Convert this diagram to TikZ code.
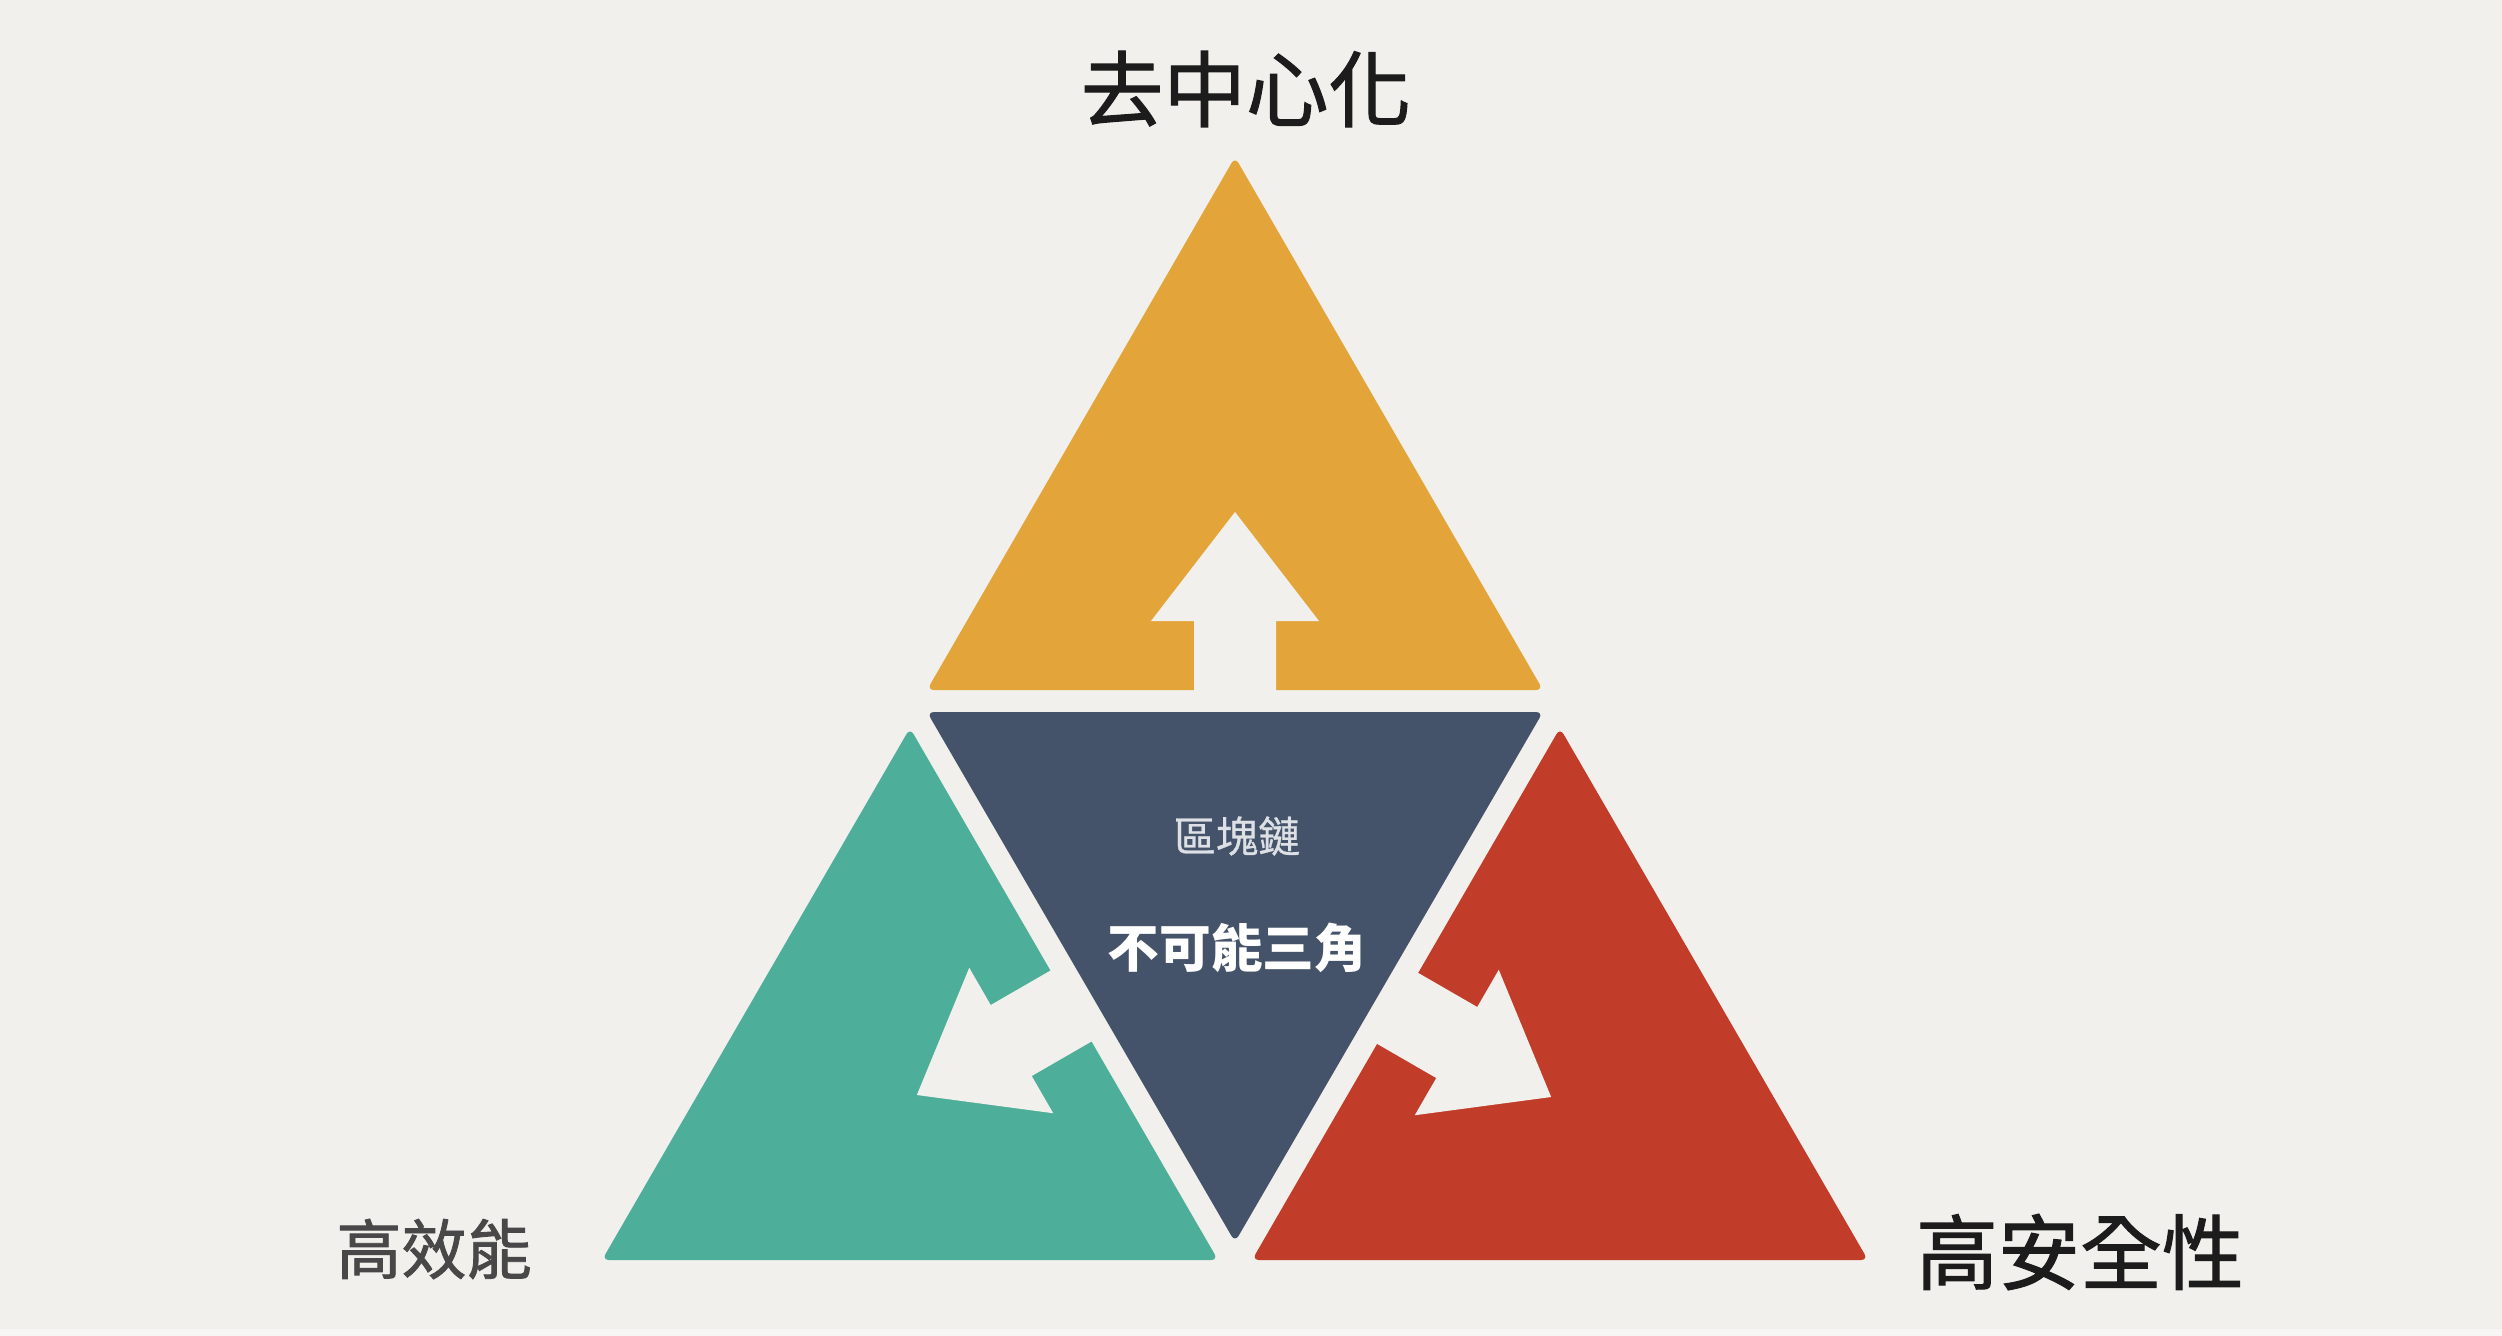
\documentclass[tikz,border=0pt]{standalone}
\usepackage{fontspec}
\newfontfamily\cjk{Noto Sans CJK TC}
\newfontfamily\cjkm[FakeBold=1.3]{Noto Sans CJK TC}
\newfontfamily\cjks[FakeBold=0.6]{Noto Sans CJK TC}
\definecolor{bgc}{HTML}{F1F0EC}
\definecolor{orangec}{HTML}{E3A43A}
\definecolor{navyc}{HTML}{45536A}
\definecolor{tealc}{HTML}{4DAE9A}
\definecolor{redc}{HTML}{C23C2A}
\definecolor{darktext}{HTML}{1C1C1C}
\definecolor{graytext}{HTML}{484848}
\definecolor{lighttext}{HTML}{DDE1E6}
\tikzset{
  tri/.style={rounded corners=2pt},
  cutout/.style={fill=bgc},
  label/.style={inner sep=0pt, anchor=center},
}
\def\arrowpath{(-41,5) -- (-41,-69) -- (-84,-69) -- (0,-178) -- (84,-69) -- (41,-69) -- (41,5) -- cycle}
\begin{document}
\begin{tikzpicture}[x=0.01cm,y=-0.01cm]
% background
\fill[bgc] (0,0) rectangle (2502,1336);
\useasboundingbox (0,0) rectangle (2502,1336);
\fill[bgc!60!white] (0,1329) rectangle (2502,1336);

% triangles
\fill[tri, orangec] (1235,157) -- (1543,690) -- (927,690) -- cycle;
\fill[tri, navyc] (927,712) -- (1543,712) -- (1235,1242) -- cycle;
\fill[tri, tealc] (910,728) -- (1218,1260) -- (602,1260) -- cycle;
\fill[tri, redc] (1560,728) -- (1868,1260) -- (1252,1260) -- cycle;

% arrow cut-outs
\begin{scope}[shift={(1235,690)}]
  \fill[cutout] \arrowpath;
\end{scope}
\begin{scope}[shift={(1071,1006)}, rotate=120]
  \fill[cutout] \arrowpath;
\end{scope}
\begin{scope}[shift={(1397,1008)}, rotate=-120]
  \fill[cutout] \arrowpath;
\end{scope}

% labels
\node[label, text=darktext, font=\cjkm\fontsize{23.5pt}{28pt}\selectfont] (top) at (1246,89) {去中心化};
\node[label, text=graytext, font=\cjkm\fontsize{18.5pt}{22pt}\selectfont] (left) at (434,1249) {高效能};
\node[label, text=darktext, font=\cjkm\fontsize{23.3pt}{28pt}\selectfont] (right) at (2080,1252) {高安全性};
\node[label, text=lighttext, font=\cjks\fontsize{12pt}{14pt}\selectfont] (chain) at (1237,836) {區塊鏈};
\node[label, text=white, font=\cjk\bfseries\fontsize{14.7pt}{18pt}\selectfont] (title) at (1237,948) {不可能三角};
\end{tikzpicture}
\end{document}
